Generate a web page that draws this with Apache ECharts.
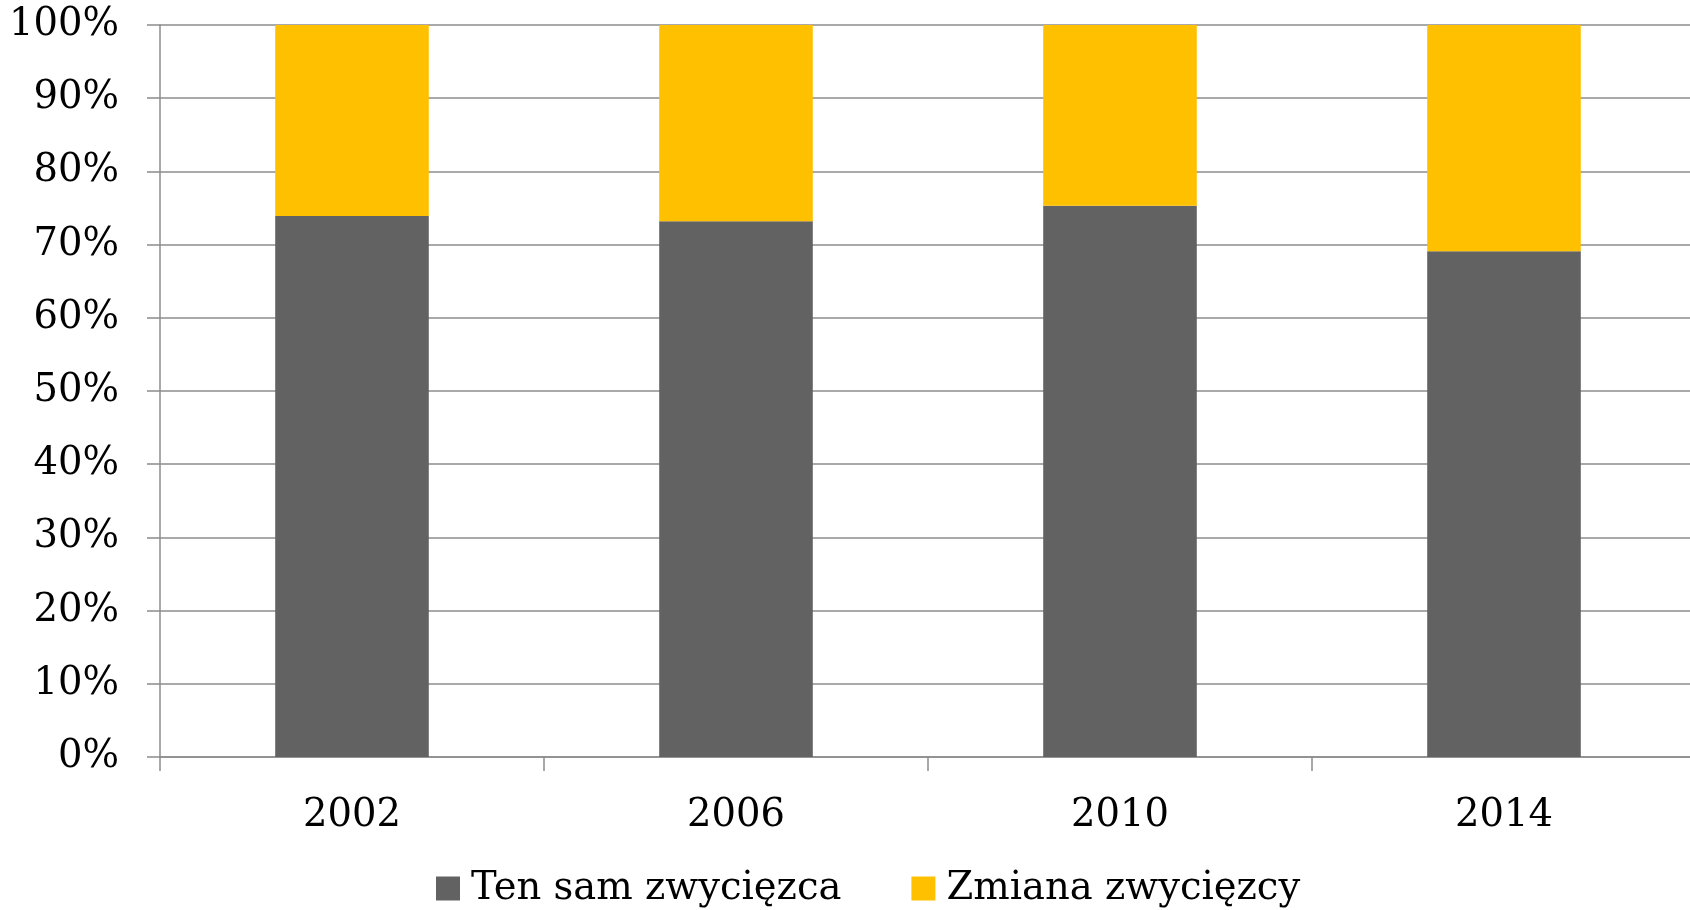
<!DOCTYPE html>
<html>
<head>
<meta charset="utf-8">
<script src="https://cdn.jsdelivr.net/npm/echarts@6/dist/echarts.min.js"></script>
<style>html,body{margin:0;padding:0;background:#fff}#c{width:1690px;height:910px}</style>
</head>
<body>
<div id="c"></div>
<script>
const categories = ['2002', '2006', '2010', '2014'];
const tenSam = [73.9, 73.2, 75.3, 69.1];
const zmiana = [26.1, 26.8, 24.7, 30.9];
const seriesNames = ['Ten sam zwycięzca', 'Zmiana zwycięzcy'];

const FONT = 'DejaVu Serif';
const FS = 38.5;
const GRAY = '#8c8c8c';

const chart = echarts.init(document.getElementById('c'), null, {renderer: 'canvas'});
chart.setOption({
  animation: false,
  backgroundColor: '#fff',
  textStyle: {fontFamily: FONT},
  grid: {left: 160, top: 25, bottom: 153, width: 1536, containLabel: false, outerBoundsMode: 'none'},
  legend: {
    left: 431, top: 864,
    itemWidth: 24, itemHeight: 24, itemGap: 70,
    icon: 'rect',
    textStyle: {fontFamily: FONT, fontSize: FS, color: '#000', padding: [0, 0, 0, 6]},
    data: seriesNames
  },
  xAxis: {
    type: 'category',
    data: categories,
    axisLine: {show: true, lineStyle: {color: GRAY, width: 1.5}},
    axisTick: {show: true, length: 14, lineStyle: {color: GRAY, width: 1.5}},
    axisLabel: {fontFamily: FONT, fontSize: FS, color: '#000', margin: 39}
  },
  yAxis: {
    type: 'value', min: 0, max: 100, interval: 10,
    axisLine: {show: true, lineStyle: {color: GRAY, width: 1.5}},
    axisTick: {show: true, length: 13, lineStyle: {color: GRAY, width: 1.5}},
    splitLine: {show: true, lineStyle: {color: GRAY, width: 1.5}},
    axisLabel: {fontFamily: FONT, fontSize: FS, color: '#000', margin: 41, formatter: '{value}%'}
  },
  series: [
    {name: seriesNames[0], type: 'bar', stack: 's', data: tenSam, barWidth: '40%', itemStyle: {color: '#626262'}},
    {name: seriesNames[1], type: 'bar', stack: 's', data: zmiana, barWidth: '40%', itemStyle: {color: '#FFC000'}}
  ]
});
</script>
</body>
</html>
